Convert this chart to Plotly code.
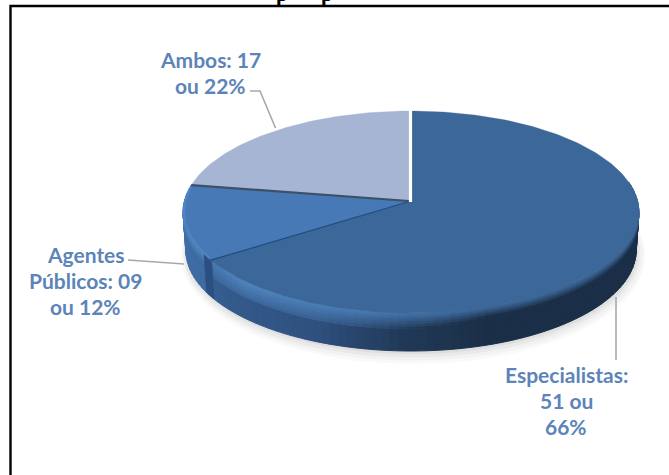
import math
import plotly.graph_objects as go

categories = ["Especialistas", "Agentes Públicos", "Ambos"]
values = [51, 9, 17]
face_colors = ["#3c6799", "#4679b5", "#a6b5d4"]
label_lines = [
    ["Especialistas:", "51 ou", "66%"],
    ["Agentes", "Públicos: 09", "ou 12%"],
    ["Ambos: 17", "ou 22%"],
]
label_centers = [(566, 374), (85.5, 254), (210, 59)]
leaders = [
    ([616, 616], [297, 360]),
    ([128, 184], [260, 264]),
    ([250, 260, 275.5], [91, 91, 128]),
]
TXT = "#5c84b8"
CX, CY, A, B, K, DEPTH = 411, 201, 226.6, 99.8, 0.109, 38


def pt(deg, t=0.0, grow=0.0):
    d = deg - 3.0 * math.sin(math.radians(deg / 2)) ** 2
    r = math.radians(d)
    X, Y = math.sin(r), math.cos(r)
    w = 1 + K * Y
    x = CX + (A + grow) * X / w * (1 - 0.012 * t)
    y = CY - (B + grow) * Y / w + DEPTH * t
    return x, y


def mix(c1, c2, f):
    f = max(0.0, min(1.0, f))
    a = [int(c1[i:i + 2], 16) for i in (1, 3, 5)]
    b = [int(c2[i:i + 2], 16) for i in (1, 3, 5)]
    return "#%02x%02x%02x" % tuple(round(p + (q - p) * f) for p, q in zip(a, b))


def ramp(stops, v):
    if v <= stops[0][0]:
        return stops[0][1]
    for (a, ca), (b, cb) in zip(stops, stops[1:]):
        if v <= b:
            return mix(ca, cb, (v - a) / (b - a))
    return stops[-1][1]


fig = go.Figure()


def poly(pts, color, opacity=1.0, seam=0.0, name=None):
    xs = [p[0] for p in pts] + [pts[0][0]]
    ys = [p[1] for p in pts] + [pts[0][1]]
    fig.add_trace(go.Scatter(
        x=xs, y=ys, mode="lines", fill="toself", fillcolor=color, opacity=opacity,
        line=dict(color=color, width=seam), showlegend=False, hoverinfo="skip", name=name))


total = sum(values)
angles = [0]
for v in values:
    angles.append(angles[-1] + v / total * 360)
a_esp, a_age, a_amb = angles[1], angles[2], angles[3]

# soft drop shadow
for g, alpha, dx, dy in [(7, 0.05, 2, 5), (5, 0.06, 2, 4), (3, 0.08, 1, 3), (1, 0.10, 1, 2)]:
    arc = [pt(a, 1.0, g) for a in range(70, 291, 3)]
    poly([(x + dx, y + dy) for x, y in arc], "#808080", opacity=alpha)

# side wall
esp_dark = [(85, "#1a2e47"), (165, "#1a2e47"), (185, "#213957"), (205, "#2e507e"), (238, "#365d90")]
esp_high = [(85, "#3c6799"), (165, "#3c6799"), (195, "#477ab3"), (225, "#4f84bf"), (238, "#4679b0")]
age_dark = [(a_esp, "#3b699f"), (262, "#3f6fa9"), (a_age, "#4a7ab2")]
# layers painted from the bottom edge upwards, each one overlapping the next to hide seams
bands = [1.0, 0.42, 0.34, 0.27, 0.2, 0.14, 0.09, 0.04, 0.0]
step = 2
for j in range(len(bands) - 1):
    t0, t1 = bands[j + 1], bands[j]
    tm = (t0 + t1) / 2 if j else 1.0
    a = 80.0
    while a < a_age:
        b = min(a + step, a_age)
        if a < a_esp < b:
            b = a_esp
        mid = (a + b) / 2
        if mid < a_esp:
            # the dark right side fades fast, the lit left side fades slowly
            span = 0.24 if mid < 165 else 0.24 + 0.40 * min(1.0, (mid - 165) / 40)
            col = mix(ramp(esp_high, mid), ramp(esp_dark, mid), tm / span)
        else:
            col = mix("#4f83bd", ramp(age_dark, mid), tm / 0.26)
        poly([pt(a, t0), pt(b, t0), pt(b, t1), pt(a, t1)], col, seam=1.0)
        a = b

# dark end cap where the large slice meets the smaller one
poly([pt(a_esp - 0.5, 0.0), pt(a_esp + 3.4, 0.0), pt(a_esp + 3.4, 1.0), pt(a_esp - 0.5, 1.0)], "#2a4f80", seam=0.5)

# top faces
for i, name in enumerate(categories):
    s, e = angles[i], angles[i + 1]
    n = max(8, int(e - s))
    arc = [pt(s + (e - s) * j / n) for j in range(n + 1)]
    poly([(CX, CY)] + arc, face_colors[i], seam=0.3, name=name)

# light rim on the small slice
rim = [pt(a_esp + 1 + (a_age - a_esp - 2) * j / 24, 0, -1) for j in range(25)]
fig.add_trace(go.Scatter(x=[p[0] for p in rim], y=[p[1] for p in rim], mode="lines",
                         line=dict(color="#5389c4", width=2), opacity=0.8, showlegend=False, hoverinfo="skip"))

# slice boundaries
x1, y1 = pt(a_esp)
fig.add_trace(go.Scatter(x=[CX, x1], y=[CY, y1], mode="lines", line=dict(color="#1f4a80", width=1.2),
                         showlegend=False, hoverinfo="skip"))
x2, y2 = pt(a_age)
fig.add_trace(go.Scatter(x=[CX - 2, x2], y=[CY, y2], mode="lines", line=dict(color="#3d5069", width=2.2),
                         showlegend=False, hoverinfo="skip"))
x3, y3 = pt(0)
fig.add_trace(go.Scatter(x=[CX - 0.5, x3 - 0.5], y=[CY + 1, y3 - 2], mode="lines", line=dict(color="#ffffff", width=3.2),
                         showlegend=False, hoverinfo="skip"))

# leader lines
for lx, ly in leaders:
    fig.add_trace(go.Scatter(x=lx, y=ly, mode="lines", line=dict(color="#a8a8a8", width=1.6),
                             showlegend=False, hoverinfo="skip"))

# frame (only left and top edges are visible)
fig.add_trace(go.Scatter(x=[10.5, 10.5, 669], y=[475, 6, 6], mode="lines", line=dict(color="#000000", width=2.4),
                         showlegend=False, hoverinfo="skip"))

annotations = []
for lines, (cx, cy) in zip(label_lines, label_centers):
    for i, line in enumerate(lines):
        annotations.append(dict(x=cx, y=cy + i * 26.3, text=line, showarrow=False, xanchor="center", yanchor="middle",
                                font=dict(family="Lato", size=21, color=TXT, weight=700)))
# title above the crop: only the descenders of its letters reach into the picture
for tx in (282, 327):
    annotations.append(dict(x=tx, y=1 + 5.5 / 475, xref="x", yref="paper", text="p", showarrow=False,
                            xanchor="center", yanchor="middle",
                            font=dict(family="Liberation Serif", size=21, color="#000000", weight=700)))

fig.update_layout(
    width=669, height=475, margin=dict(l=0, r=0, t=0, b=0),
    paper_bgcolor="#ffffff", plot_bgcolor="#ffffff", showlegend=False,
    xaxis=dict(range=[0, 669], visible=False, fixedrange=True),
    yaxis=dict(range=[475, 0], visible=False, fixedrange=True),
    annotations=annotations,
)
fig.write_html("out.html", config={"displayModeBar": False},
               post_script="document.body.style.margin='0';document.body.style.overflow='hidden';")
